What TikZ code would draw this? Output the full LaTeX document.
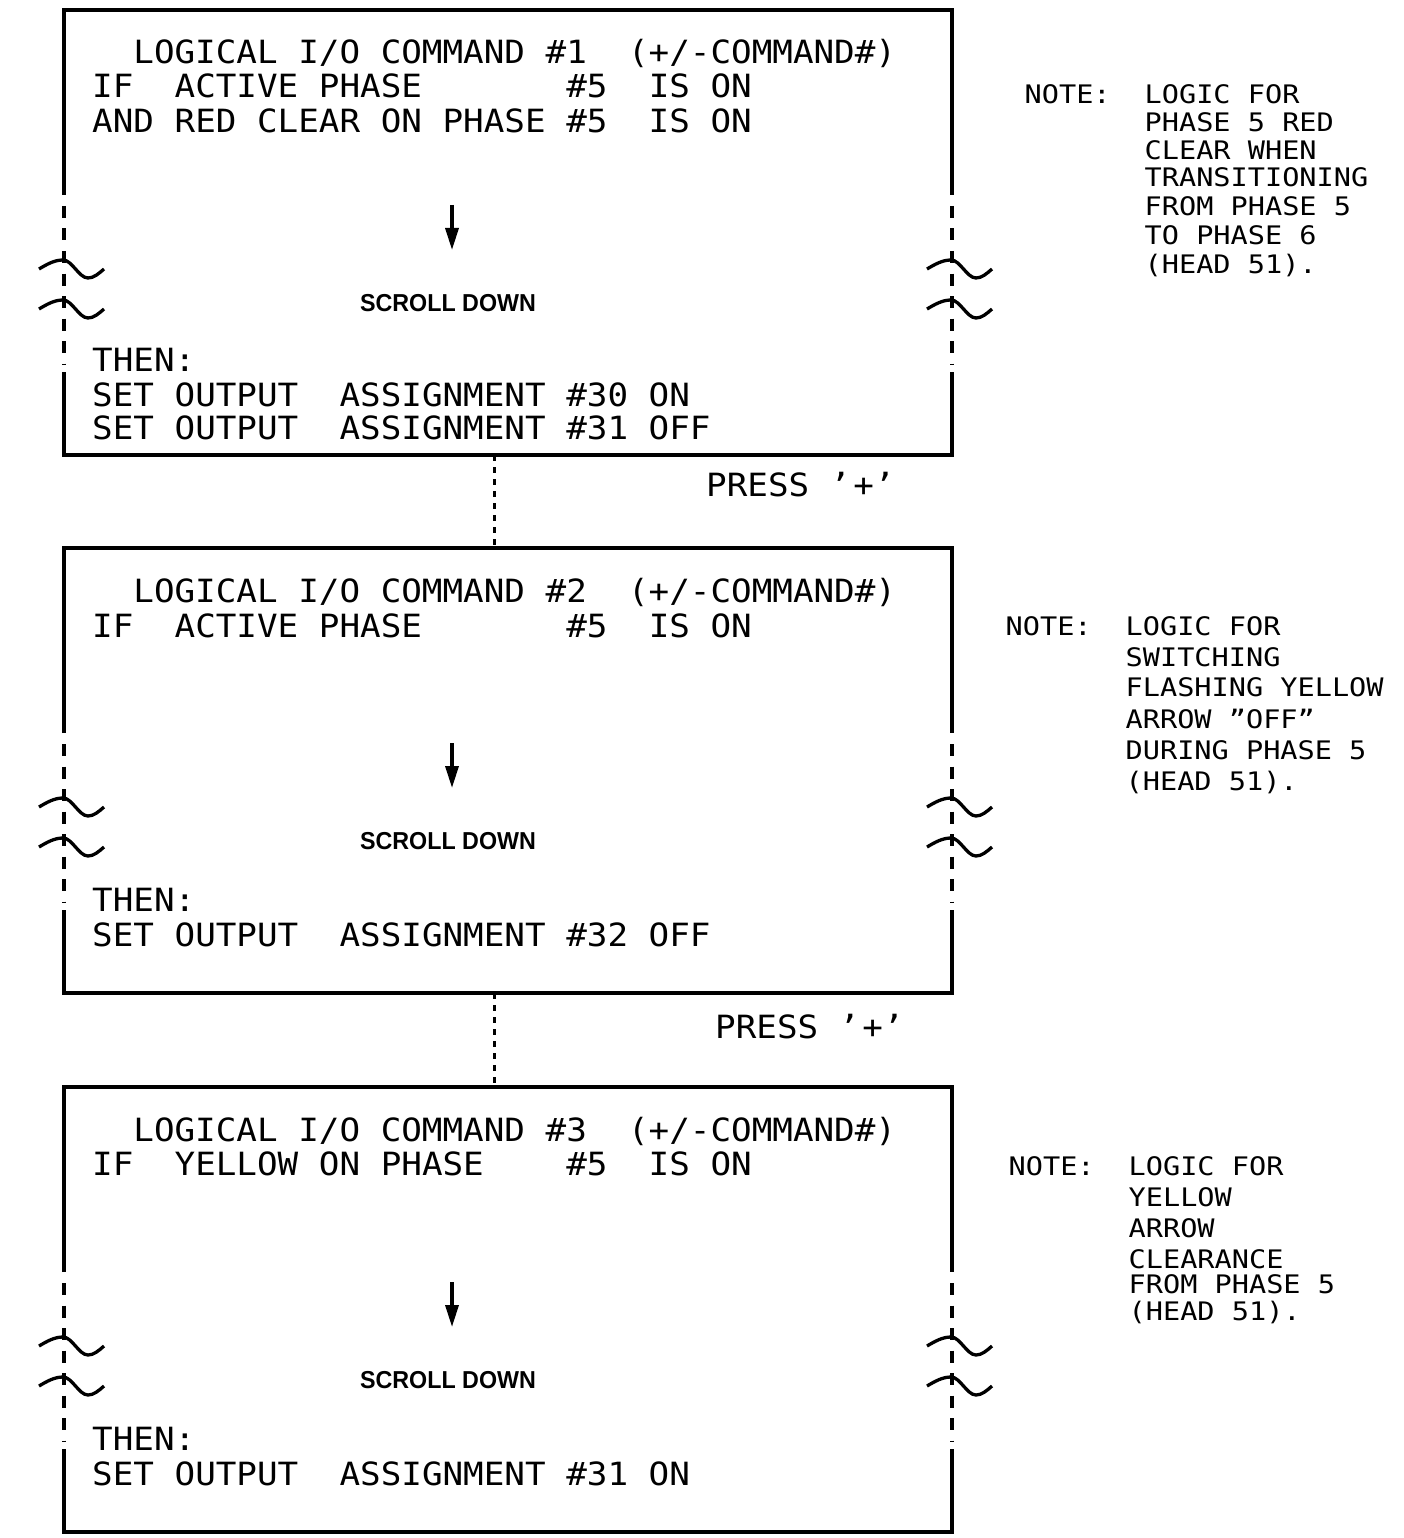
\documentclass[tikz,border=0pt]{standalone}
\usepackage{fontspec}
\usetikzlibrary{arrows.meta}
\newfontfamily\cadfont[FakeStretch=1.07]{DejaVu Sans Mono}
\newfontfamily\notefont[FakeStretch=1.12]{DejaVu Sans Mono}
\newfontfamily\scrollfont[FakeStretch=0.95]{Liberation Sans}
\begin{document}
\begin{tikzpicture}[x=1pt,y=-1pt,
  boxline/.style={line width=3.4pt},
  brk/.style={line width=3.4pt, dash pattern=on 12pt off 10.5pt},
  conn/.style={line width=3pt, dash pattern=on 6pt off 6pt},
  tilde/.style={line width=3.3pt},
  darrow/.style={line width=3.3pt, -{Triangle[length=22pt,width=13pt]}},
  cad/.style={anchor=base west, inner sep=0pt, font=\fontsize{32}{34}\cadfont},
  note/.style={anchor=base west, inner sep=0pt, font=\fontsize{25.5}{28}\notefont},
  scroll/.style={anchor=base, inner sep=0pt, font=\fontsize{24.5}{26}\scrollfont\bfseries},
  boxnode/.style={anchor=north west, minimum width=888pt, minimum height=445pt, inner sep=0pt, draw=none}]
\useasboundingbox (0,0) rectangle (1404,1538);

\foreach \n/\t in {1/10,2/548,3/1087}{
  \node[boxnode] (b\n) at (64,\t) {};
  \draw[boxline] (64,\t+185) -- (64,\t) -- (952,\t) -- (952,\t+185);
  \draw[boxline] (64,\t+362) -- (64,\t+445) -- (952,\t+445) -- (952,\t+362);
  \draw[brk] (64,\t+196) -- (64,\t+354);
  \draw[brk] (952,\t+196) -- (952,\t+354);
  \foreach \lx in {64,952}{
    \foreach \dy in {259,299}{
      \draw[tilde] (\lx-25,\t+\dy) sin (\lx-1,\t+\dy-9) cos (\lx+11.5,\t+\dy) sin (\lx+24,\t+\dy+9) cos (\lx+40,\t+\dy);
    }
  }
  \coordinate (a\n s) at (452,\t+195);
  \coordinate (a\n e) at (452,\t+240);
  \draw[darrow] (a\n s) -- (a\n e);
  \node[scroll] (sd\n) at (448,\t+301) {SCROLL DOWN};
}

% connectors between boxes
\coordinate (c1s) at (494,455);
\coordinate (c1e) at (494,548);
\coordinate (c2s) at (494,993);
\coordinate (c2e) at (494,1087);
\draw[conn] (c1s) -- (c1e);
\draw[conn] (c2s) -- (c2e);
\node[cad] (p1) at (706,496.7) {PRESS ’\kern3pt+’};
\node[cad] (p2) at (715,1038.7) {PRESS ’\kern3pt+’};

% box 1 text
\node[cad] (b1l1) at (133.2,63.7) {LOGICAL I/O COMMAND \#1~~(+/-COMMAND\#)};
\node[cad] (b1l2) at (92,97.7) {IF~~ACTIVE PHASE~~~~~~~\#5~~IS ON};
\node[cad] (b1l3) at (92,132.7) {AND RED CLEAR ON PHASE \#5~~IS ON};
\node[cad] (b1l4) at (92,371.7) {THEN:};
\node[cad] (b1l5) at (92,406.7) {SET OUTPUT~~ASSIGNMENT \#30 ON};
\node[cad] (b1l6) at (92,439.7) {SET OUTPUT~~ASSIGNMENT \#31 OFF};

% box 2 text
\node[cad] (b2l1) at (133.2,602.7) {LOGICAL I/O COMMAND \#2~~(+/-COMMAND\#)};
\node[cad] (b2l2) at (92,637.7) {IF~~ACTIVE PHASE~~~~~~~\#5~~IS ON};
\node[cad] (b2l4) at (92,911.7) {THEN:};
\node[cad] (b2l5) at (92,946.7) {SET OUTPUT~~ASSIGNMENT \#32 OFF};

% box 3 text
\node[cad] (b3l1) at (133.2,1141.7) {LOGICAL I/O COMMAND \#3~~(+/-COMMAND\#)};
\node[cad] (b3l2) at (92,1175.7) {IF~~YELLOW ON PHASE~~~~\#5~~IS ON};
\node[cad] (b3l4) at (92,1450.7) {THEN:};
\node[cad] (b3l5) at (92,1485.7) {SET OUTPUT~~ASSIGNMENT \#31 ON};

% notes
\node[note] (n1h) at (1024.5,103.5) {NOTE:};
\node[note] (n1a) at (1144.5,103.5) {LOGIC FOR};
\node[note] (n1b) at (1144.5,131.5) {PHASE 5 RED};
\node[note] (n1c) at (1144.5,159.5) {CLEAR WHEN};
\node[note] (n1d) at (1144.5,186.5) {TRANSITIONING};
\node[note] (n1e) at (1144.5,215.5) {FROM PHASE 5};
\node[note] (n1f) at (1144.5,244.5) {TO PHASE 6};
\node[note] (n1g) at (1144.5,273.5) {(HEAD 51).};

\node[note] (n2h) at (1005.5,635.5) {NOTE:};
\node[note] (n2a) at (1125.5,635.5) {LOGIC FOR};
\node[note] (n2b) at (1125.5,666.5) {SWITCHING};
\node[note] (n2c) at (1125.5,696.5) {FLASHING YELLOW};
\node[note] (n2d) at (1125.5,728.5) {ARROW ”OFF”};
\node[note] (n2e) at (1125.5,759.5) {DURING PHASE 5};
\node[note] (n2f) at (1125.5,790.5) {(HEAD 51).};

\node[note] (n3h) at (1008.5,1175.5) {NOTE:};
\node[note] (n3a) at (1128.5,1175.5) {LOGIC FOR};
\node[note] (n3b) at (1128.5,1206.5) {YELLOW};
\node[note] (n3c) at (1128.5,1237.5) {ARROW};
\node[note] (n3d) at (1128.5,1268.5) {CLEARANCE};
\node[note] (n3e) at (1128.5,1293.5) {FROM PHASE 5};
\node[note] (n3f) at (1128.5,1320.5) {(HEAD 51).};
\end{tikzpicture}
\end{document}
